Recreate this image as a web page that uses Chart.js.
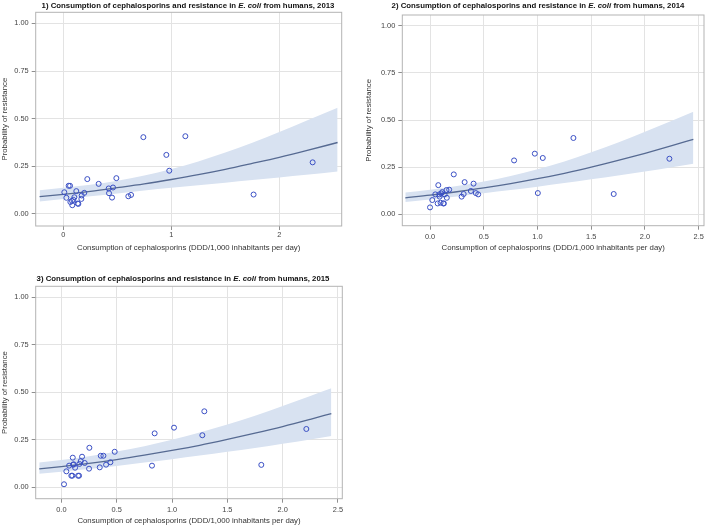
<!DOCTYPE html>
<html>
<head>
<meta charset="utf-8">
<script src="https://cdn.jsdelivr.net/npm/chart.js@4.4.0/dist/chart.umd.min.js"></script>
<style>
  html, body { margin: 0; padding: 0; background: #fff; }
  body { width: 709px; height: 526px; position: relative; overflow: hidden; font-family: "Liberation Sans", Arial, sans-serif; }
  canvas { position: absolute; }
  .ttl { position: absolute; font-weight: bold; font-size: 7.8px; white-space: nowrap; color: #111; transform: translate(-50%, -50%); line-height: 1; z-index: 2; }
</style>
</head>
<body>
<canvas id="c1" width="354" height="263" style="left:0px;top:0px"></canvas>
<canvas id="c2" width="355" height="263" style="left:354px;top:0px"></canvas>
<canvas id="c3" width="354" height="263" style="left:0px;top:263px"></canvas>
<div class="ttl" id="t1" style="left:188px;top:5.5px"></div>
<div class="ttl" id="t2" style="left:538px;top:5.5px"></div>
<div class="ttl" id="t3" style="left:183px;top:279px"></div>
<script>
// ---------- texts ----------
const titlePrefix = ["1) ", "2) ", "3) "];
const titleMain = "Consumption of cephalosporins and resistance in ";
const titleItalic = "E. coli";
const titleSuffix = " from humans, ";
const years = ["2013", "2014", "2015"];
const xAxisTitle = "Consumption of cephalosporins (DDD/1,000 inhabitants per day)";
const yAxisTitle = "Probability of resistance";

// ---------- tick labels ----------
const yTicks = [0, 0.25, 0.5, 0.75, 1];
const xTicks2013 = [0, 1, 2];
const xTicks2014 = [0, 0.5, 1, 1.5, 2, 2.5];
const xTicks2015 = [0, 0.5, 1, 1.5, 2, 2.5];

// ---------- 2013 ----------
const consumption2013 = [0.009,0.028,0.049,0.062,0.065,0.080,0.083,0.093,0.102,0.120,0.133,0.139,0.167,0.170,0.194,0.222,0.327,0.420,0.423,0.451,0.460,0.491,0.602,0.627,0.741,0.954,0.981,1.130,1.762,2.309];
const resistance2013  = [0.114,0.085,0.148,0.148,0.063,0.069,0.046,0.074,0.088,0.120,0.055,0.053,0.079,0.097,0.111,0.183,0.158,0.134,0.109,0.086,0.139,0.188,0.093,0.100,0.403,0.310,0.227,0.408,0.102,0.271];
const fitX2013   = [-0.22, 0, 0.25, 0.5, 0.75, 1, 1.25, 1.5, 1.75, 2, 2.25, 2.54];
const fit2013    = [0.091,0.103,0.119,0.138,0.158,0.181,0.206,0.234,0.265,0.297,0.332,0.375];
const lower2013  = [0.066,0.078,0.093,0.108,0.123,0.137,0.151,0.164,0.178,0.192,0.206,0.223];
const upper2013  = [0.125,0.137,0.153,0.174,0.202,0.236,0.276,0.323,0.374,0.430,0.489,0.557];

// ---------- 2014 ----------
const consumption2014 = [0.000,0.021,0.049,0.071,0.077,0.086,0.089,0.098,0.104,0.113,0.123,0.129,0.135,0.153,0.156,0.178,0.221,0.294,0.313,0.322,0.380,0.405,0.426,0.448,0.782,0.975,1.003,1.049,1.334,1.709,2.227];
const resistance2014  = [0.037,0.076,0.106,0.058,0.155,0.106,0.094,0.062,0.111,0.118,0.058,0.058,0.106,0.129,0.088,0.131,0.212,0.094,0.108,0.171,0.124,0.163,0.113,0.106,0.286,0.322,0.113,0.299,0.405,0.108,0.295];
const fitX2014   = [-0.23, 0, 0.25, 0.5, 0.75, 1, 1.25, 1.5, 1.75, 2, 2.25, 2.45];
const fit2014    = [0.088,0.102,0.120,0.140,0.163,0.189,0.218,0.250,0.286,0.324,0.364,0.398];
const lower2014  = [0.066,0.079,0.095,0.112,0.129,0.147,0.166,0.186,0.206,0.227,0.250,0.268];
const upper2014  = [0.116,0.131,0.150,0.174,0.204,0.239,0.281,0.329,0.381,0.438,0.497,0.544];

// ---------- 2015 ----------
const consumption2015 = [0.024,0.045,0.070,0.090,0.099,0.103,0.106,0.112,0.124,0.151,0.160,0.163,0.175,0.187,0.211,0.250,0.253,0.347,0.356,0.380,0.404,0.443,0.482,0.819,0.843,1.018,1.274,1.292,1.807,2.214];
const resistance2015  = [0.016,0.084,0.114,0.061,0.061,0.156,0.119,0.121,0.103,0.061,0.061,0.123,0.138,0.161,0.128,0.098,0.208,0.105,0.166,0.166,0.119,0.132,0.187,0.114,0.284,0.314,0.274,0.400,0.118,0.307];
const fitX2015   = [-0.2, 0, 0.25, 0.5, 0.75, 1, 1.25, 1.5, 1.75, 2, 2.25, 2.44];
const fit2015    = [0.097,0.109,0.126,0.146,0.169,0.194,0.221,0.252,0.285,0.320,0.358,0.388];
const lower2015  = [0.071,0.082,0.096,0.112,0.130,0.148,0.167,0.187,0.207,0.229,0.252,0.270];
const upper2015  = [0.130,0.144,0.164,0.188,0.216,0.250,0.288,0.330,0.377,0.428,0.481,0.521];

// ---------- styling ----------
const FONT = "'Liberation Sans', Arial, Helvetica, sans-serif";
const POINT_COLOR = '#3a4fc4';
const LINE_COLOR = '#566a92';
const BAND_COLOR = '#d8e2f1';
const GRID_COLOR = '#e3e3e3';
const FRAME_COLOR = '#b3b3b3';
const TEXT_COLOR = '#333';

const framePlugin = {
  id: 'frame',
  afterDatasetsDraw(chart) {
    const { ctx, chartArea: a } = chart;
    ctx.save();
    ctx.strokeStyle = FRAME_COLOR;
    ctx.lineWidth = 1;
    ctx.strokeRect(a.left, a.top, a.right - a.left, a.bottom - a.top);
    ctx.restore();
  }
};

function zip(xs, ys) { return xs.map((x, i) => ({ x: x, y: ys[i] })); }

function makeChart(id, cfg) {
  const ctx = document.getElementById(id).getContext('2d');
  return new Chart(ctx, {
    type: 'line',
    data: {
      datasets: [
        { data: zip(cfg.px, cfg.py), showLine: false, pointRadius: 2.5, pointBorderWidth: 1,
          pointBorderColor: POINT_COLOR, pointBackgroundColor: 'rgba(255,255,255,0)', borderColor: POINT_COLOR, order: 0 },
        { data: zip(cfg.fx, cfg.fit), borderColor: LINE_COLOR, borderWidth: 1.3, pointRadius: 0,
          fill: false, cubicInterpolationMode: 'monotone', order: 1 },
        { data: zip(cfg.fx, cfg.up), borderColor: 'rgba(0,0,0,0)', borderWidth: 0, backgroundColor: BAND_COLOR,
          pointRadius: 0, fill: '+1', cubicInterpolationMode: 'monotone', order: 2 },
        { data: zip(cfg.fx, cfg.lo), borderColor: 'rgba(0,0,0,0)', borderWidth: 0,
          pointRadius: 0, fill: false, cubicInterpolationMode: 'monotone', order: 3 }
      ]
    },
    options: {
      responsive: false,
      animation: false,
      events: [],
      layout: { padding: { top: cfg.padTop, right: cfg.padRight, left: 0, bottom: 0 } },
      plugins: { legend: { display: false }, tooltip: { enabled: false }, title: { display: false } },
      scales: {
        x: {
          type: 'linear', min: cfg.xMin, max: cfg.xMax,
          afterBuildTicks: s => { s.ticks = cfg.xTicks.map(v => ({ value: v })); },
          afterFit: s => { s.height = cfg.xH; },
          ticks: { font: { family: FONT, size: 7.4 }, color: '#444', padding: cfg.xTickPad, maxRotation: 0, autoSkip: false,
                   callback: v => Number(v).toFixed(cfg.xDec) },
          grid: { color: GRID_COLOR, lineWidth: 1, drawTicks: true, tickLength: 4, tickColor: '#8f8f8f' },
          border: { display: false },
          title: { display: true, text: xAxisTitle, font: { family: FONT, size: 7.8 }, color: TEXT_COLOR,
                   padding: { top: 0, bottom: cfg.xTitlePad } }
        },
        y: {
          type: 'linear', min: cfg.yMin, max: cfg.yMax,
          afterBuildTicks: s => { s.ticks = yTicks.map(v => ({ value: v })); },
          afterFit: s => { s.width = cfg.yW; },
          ticks: { font: { family: FONT, size: 7.4 }, color: '#444', padding: 3, autoSkip: false,
                   callback: v => Number(v).toFixed(2) },
          grid: { color: GRID_COLOR, lineWidth: 1, drawTicks: true, tickLength: 4, tickColor: '#8f8f8f' },
          border: { display: false },
          title: { display: true, text: yAxisTitle, font: { family: FONT, size: 7.8 }, color: TEXT_COLOR,
                   padding: { top: cfg.yTitlePad, bottom: 0 } }
        }
      }
    },
    plugins: [framePlugin]
  });
}

makeChart('c1', {
  px: consumption2013, py: resistance2013, fx: fitX2013, fit: fit2013, lo: lower2013, up: upper2013,
  xTicks: xTicks2013, xDec: 0,
  xMin: -0.256, xMax: 2.578, yMin: -0.063, yMax: 1.058,
  padTop: 12.3, padRight: 12.3, yW: 35.7, xH: 37, xTickPad: 1, xTitlePad: 10, yTitlePad: 0
});
makeChart('c2', {
  px: consumption2014, py: resistance2014, fx: fitX2014, fit: fit2014, lo: lower2014, up: upper2014,
  xTicks: xTicks2014, xDec: 1,
  xMin: -0.258, xMax: 2.549, yMin: -0.06, yMax: 1.057,
  padTop: 15, padRight: 1.7, yW: 48.3, xH: 37.3, xTickPad: 3, xTitlePad: 10, yTitlePad: 10
});
makeChart('c3', {
  px: consumption2015, py: resistance2015, fx: fitX2015, fit: fit2015, lo: lower2015, up: upper2015,
  xTicks: xTicks2015, xDec: 1,
  xMin: -0.232, xMax: 2.539, yMin: -0.06, yMax: 1.058,
  padTop: 23.3, padRight: 11.7, yW: 35.7, xH: 27.3, xTickPad: 3, xTitlePad: 0.5, yTitlePad: 0
});

function setTitle(id, i) {
  const el = document.getElementById(id);
  el.appendChild(document.createTextNode(titlePrefix[i] + titleMain));
  const it = document.createElement('i');
  it.textContent = titleItalic;
  el.appendChild(it);
  el.appendChild(document.createTextNode(titleSuffix + years[i]));
}
setTitle('t1', 0); setTitle('t2', 1); setTitle('t3', 2);
</script>
</body>
</html>
